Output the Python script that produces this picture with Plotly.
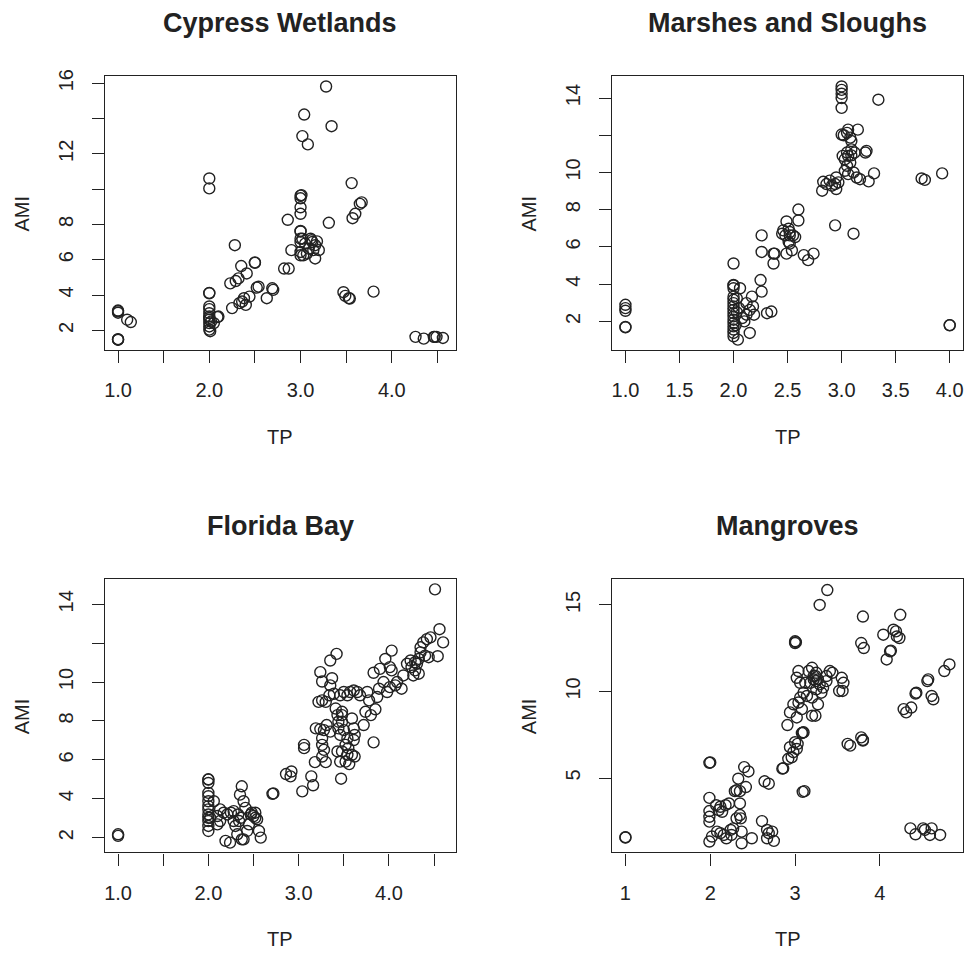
import plotly.graph_objects as go

# ---- data: total phosphorus (TP) vs AMI for four habitat types ----
cw_tp = [1.0, 1.0, 1.0, 1.0, 1.0, 1.0, 1.1, 1.14,
         2.0, 2.0, 2.0, 2.0, 2.0, 2.0, 2.0, 2.0, 2.0, 2.0, 2.0, 2.01, 2.0, 2.0, 2.02, 2.09, 2.05, 2.1,
         2.25, 2.23, 2.28, 2.29, 2.32, 2.35, 2.33, 2.36, 2.38, 2.4, 2.41, 2.44, 2.5, 2.5, 2.52, 2.54,
         2.63, 2.69, 2.70, 2.82, 2.87, 2.86, 2.9,
         3.0, 3.01, 3.0, 3.0, 3.0, 3.0, 3.0, 3.0, 3.0, 3.0, 3.0,
         3.02, 3.04, 3.08, 3.28, 3.34, 3.31,
         3.02, 3.03, 3.05, 3.09, 3.11, 3.13, 3.14, 3.16, 3.18, 3.2, 3.16, 3.07, 3.12,
         3.47, 3.49, 3.53, 3.54, 3.56, 3.57, 3.6, 3.65, 3.67, 3.8,
         4.26, 4.35, 4.46, 4.47, 4.49, 4.56]
cw_ami = [1.47, 1.47, 1.5, 3.12, 3.0, 3.08, 2.6, 2.47,
          10.6, 10.04, 4.1, 4.12, 3.35, 2.97, 2.79, 2.6, 2.41, 2.22, 2.04, 1.95, 3.2, 2.7, 2.5, 2.75, 2.41, 2.78,
          3.26, 4.66, 6.82, 4.79, 4.94, 5.64, 3.54, 3.63, 3.82, 3.44, 5.22, 3.91, 5.82, 5.85, 4.42, 4.47,
          3.82, 4.38, 4.29, 5.5, 5.5, 8.26, 6.54,
          9.63, 9.66, 9.48, 8.97, 8.6, 7.6, 7.63, 7.19, 7.0, 6.44, 6.25,
          13.0, 14.22, 12.53, 15.81, 13.56, 8.09,
          7.19, 6.25, 6.91, 6.63, 7.19, 7.0, 6.54, 6.07, 7.04, 6.54, 6.82, 6.35, 7.1,
          4.16, 3.95, 3.82, 3.8, 10.34, 8.35, 8.6, 9.16, 9.25, 4.19,
          1.63, 1.53, 1.63, 1.63, 1.63, 1.57]

ms_tp = [1.0, 1.0, 1.0, 1.0, 1.0,
         2.0, 2.0, 2.0, 2.0, 2.0, 2.0, 2.0, 2.0, 2.0, 2.0, 2.0, 2.0, 2.0, 2.0, 2.0, 2.0, 2.0, 2.04,
         2.06, 2.03, 2.05, 2.08, 2.12, 2.15, 2.17, 2.12, 2.18, 2.19, 2.15, 2.1, 2.02, 2.03,
         2.26, 2.25, 2.31, 2.35,
         2.26, 2.26, 2.37, 2.38, 2.37,
         2.45, 2.49, 2.51, 2.48, 2.52, 2.51, 2.49, 2.55, 2.57, 2.54, 2.52, 2.6, 2.6, 2.65, 2.69, 2.74,
         2.46, 2.52,
         2.82, 2.83, 2.86, 2.89, 2.91, 2.94, 2.95, 2.97, 2.95, 2.94,
         3.0, 3.0, 3.0, 3.0, 3.0, 3.0, 3.02, 3.05, 3.08, 3.09, 3.06, 3.15,
         3.01, 3.03, 3.06, 3.09, 3.08, 3.05, 3.03, 3.06, 3.11, 3.12, 3.14, 3.09, 3.05, 3.22, 3.23,
         3.17, 3.25, 3.3, 3.11, 3.34,
         3.74, 3.77, 3.93, 4.0, 4.0]
ms_ami = [2.89, 2.71, 2.57, 1.68, 1.7,
          5.11, 3.96, 3.93, 3.78, 3.33, 3.16, 2.98, 2.8, 2.62, 2.44, 2.27, 2.09, 1.91, 1.73, 1.56, 1.38, 1.2, 1.02,
          3.78, 3.24, 2.71, 2.18, 2.98, 2.62, 3.33, 2.36, 2.8, 2.36, 1.38, 2.0, 1.8, 2.5,
          3.6, 4.22, 2.44, 2.53,
          6.62, 5.73, 5.64, 5.64, 5.11,
          6.71, 7.37, 6.98, 6.62, 6.62, 6.27, 5.64, 6.62, 6.53, 5.82, 6.18, 8.01, 7.42, 5.56, 5.29, 5.64,
          6.89, 6.8,
          9.02, 9.5, 9.38, 9.56, 9.29, 9.38, 9.73, 9.47, 9.11, 7.16,
          14.62, 14.44, 14.23, 14.0, 13.47, 12.04, 12.0, 12.13, 11.87, 11.69, 12.3, 12.3,
          10.89, 10.71, 10.89, 10.92, 10.53, 10.36, 10.09, 9.91, 10.0, 11.07, 9.73, 11.24, 11.07, 11.07, 11.16,
          9.64, 9.52, 9.95, 6.71, 13.91,
          9.68, 9.6, 9.95, 1.79, 1.8]

fb_tp = [1.0, 1.0,
         2.0, 2.0, 2.0, 2.0, 2.0, 2.0, 2.0, 2.0, 2.0, 2.0, 2.0, 2.0,
         2.06, 2.1, 2.13, 2.17, 2.21, 2.25, 2.28, 2.13, 2.1, 2.19, 2.24, 2.3, 2.32, 2.34, 2.36, 2.37,
         2.39, 2.37, 2.35, 2.39, 2.41, 2.43, 2.45, 2.47, 2.48, 2.5, 2.52, 2.54, 2.52, 2.56, 2.58, 2.33,
         2.28, 2.02, 2.0,
         2.71, 2.72, 2.86, 2.92, 2.91, 3.04, 3.06, 3.06, 3.14, 3.16, 3.18, 3.3, 3.47, 3.46, 3.52, 3.56,
         3.24, 3.26, 3.26, 3.35, 3.42, 3.37, 3.35, 3.19, 3.24, 3.28, 3.31, 3.35, 3.26, 3.26, 3.28, 3.26,
         3.22, 3.3, 3.34, 3.39, 3.41, 3.43, 3.44, 3.44, 3.46, 3.43, 3.48, 3.46, 3.5, 3.54, 3.57, 3.61,
         3.65, 3.68, 3.48, 3.48, 3.48, 3.5, 3.54, 3.52, 3.55, 3.54, 3.59, 3.62, 3.59, 3.61, 3.62, 3.61,
         3.72, 3.74, 3.76, 3.78, 3.8, 3.83, 3.85, 3.83, 3.87, 3.9, 3.89, 3.94, 3.96, 3.98, 4.01, 4.03,
         4.01, 4.03, 4.07, 4.09, 4.14, 4.16, 4.2, 4.24, 4.25, 4.27, 4.29, 4.31, 4.33, 4.35, 4.35, 4.38,
         4.42, 4.46, 4.4, 4.44, 4.29, 4.33, 4.51, 4.56, 4.6, 4.54]
fb_ami = [2.09, 2.17,
          4.98, 5.0, 4.81, 4.3, 4.13, 3.87, 3.45, 3.19, 3.02, 2.85, 2.6, 2.34,
          3.87, 3.11, 3.45, 3.28, 3.19, 3.28, 3.36, 2.85, 2.68, 1.83, 1.74, 2.6, 2.17, 2.85, 3.02, 1.91,
          1.91, 4.64, 4.21, 3.87, 3.53, 2.34, 2.68, 3.19, 3.28, 3.11, 3.02, 2.94, 3.28, 2.34, 2.0, 3.19,
          2.85, 3.02, 3.62,
          4.25, 4.27, 5.27, 5.4, 5.15, 4.38, 6.77, 6.6, 5.15, 4.69, 5.88, 5.88, 5.03, 5.91, 5.91, 5.78,
          10.51, 10.03, 9.06, 11.11, 11.45, 10.2, 9.83, 7.62, 7.58, 7.53, 7.79, 7.45, 7.11, 6.77, 6.51, 6.17,
          8.98, 8.98, 9.32, 9.4, 8.64, 8.3, 7.96, 7.62, 7.28, 6.43, 6.43, 9.32, 9.49, 9.32, 9.49, 9.57,
          9.49, 9.32, 8.3, 8.47, 7.96, 7.53, 7.11, 6.77, 6.6, 6.26, 6.26, 6.17, 8.13, 7.62, 7.28, 7.02,
          7.79, 8.47, 9.49, 9.06, 8.3, 10.48, 8.6, 6.9, 9.23, 10.68, 9.66, 10.0, 11.19, 9.49, 9.74, 11.62,
          10.77, 10.6, 9.83, 10.0, 9.66, 10.34, 10.94, 11.11, 10.77, 10.34, 10.6, 10.94, 11.19, 11.53, 11.79, 12.04,
          12.21, 12.3, 11.36, 11.28, 11.02, 10.43, 14.77, 12.72, 12.04, 11.33]

mg_tp = [1.0, 1.0,
         1.99, 2.0, 1.99, 1.99, 1.99, 1.99, 1.99, 2.02, 2.07, 2.1, 2.12, 2.14, 2.18, 2.22, 2.08, 2.12,
         2.16, 2.19, 2.24, 2.25, 2.27, 2.29, 2.31, 2.33, 2.35, 2.35, 2.35, 2.36, 2.37, 2.37, 2.4, 2.45,
         2.42, 2.49, 2.31,
         2.61, 2.67, 2.69, 2.73, 2.75, 2.67, 2.64, 2.69,
         2.85, 2.86, 2.92, 2.96, 2.94, 2.98, 3.02, 3.0, 3.03, 3.08, 3.09, 3.1, 3.09, 3.11,
         2.91, 2.94, 2.98, 3.02, 3.04, 3.06, 3.08, 3.02, 3.04, 3.06, 3.1, 3.12, 3.16, 3.2, 3.22, 3.25,
         3.27, 3.29, 3.25, 3.2, 3.24, 3.27, 3.2, 3.14, 3.31, 3.33, 3.37, 3.41, 3.44, 3.55, 3.57, 3.52,
         3.56, 3.37, 3.25, 3.18, 3.22, 3.24,
         3.0, 3.0, 3.01,
         3.29, 3.38,
         3.62, 3.65, 3.78, 3.8, 3.8, 3.8, 3.78, 3.81,
         4.04, 4.08, 4.12, 4.13, 4.16, 4.19, 4.2, 4.23, 4.24,
         4.28, 4.31, 4.37, 4.42, 4.43, 4.56, 4.57, 4.61, 4.63, 4.76, 4.82,
         4.36, 4.42, 4.51, 4.61, 4.59, 4.71, 4.53]
mg_ami = [1.56, 1.58,
          5.88, 5.9, 3.85, 3.09, 2.76, 2.48, 1.33, 1.62, 3.43, 3.15, 3.34, 3.05, 3.43, 3.53, 1.9, 1.81,
          1.71, 1.52, 2.0, 1.71, 2.09, 4.24, 4.29, 4.96, 4.24, 3.53, 2.86, 2.67, 1.9, 1.23, 5.63, 5.38,
          4.48, 1.52, 2.67,
          2.51, 2.0, 1.81, 1.9, 1.37, 1.52, 4.81, 4.67,
          5.54, 5.56, 6.11, 6.2, 6.78, 6.49, 6.68, 7.07, 6.97, 7.6, 7.62, 7.64, 4.2, 4.24,
          8.06, 8.79, 9.26, 8.5, 9.36, 9.65, 8.98, 10.79, 11.18, 10.5, 9.93, 10.5, 11.18, 11.37, 10.89, 11.08,
          10.7, 10.41, 10.12, 8.6, 8.6, 9.26, 9.65, 9.74, 9.93, 10.22, 10.6, 11.18, 11.08, 10.79, 10.5, 10.03,
          10.03, 10.89, 10.6, 10.5, 10.7, 10.9,
          12.9, 12.8, 12.85,
          15.0, 15.86,
          6.97, 6.87, 7.35, 7.16, 7.2, 14.33, 12.8, 12.51,
          13.28, 11.85, 12.32, 12.36, 13.57, 13.47, 13.18, 13.09, 14.43,
          8.98, 8.79, 9.07, 9.88, 9.93, 10.6, 10.7, 9.74, 9.55, 11.18, 11.56,
          2.09, 1.75, 2.09, 2.09, 1.71, 1.71, 2.0]

titles = ["Cypress Wetlands", "Marshes and Sloughs", "Florida Bay", "Mangroves"]

# x-axis ticks per panel (unlabelled ticks have empty text)
x_tickvals = [[1.0, 1.5, 2.0, 2.5, 3.0, 3.5, 4.0, 4.5],
              [1.0, 1.5, 2.0, 2.5, 3.0, 3.5, 4.0],
              [1.0, 1.5, 2.0, 2.5, 3.0, 3.5, 4.0, 4.5],
              [1, 2, 3, 4]]
x_ticktext = [["1.0", "", "2.0", "", "3.0", "", "4.0", ""],
              ["1.0", "1.5", "2.0", "2.5", "3.0", "3.5", "4.0"],
              ["1.0", "", "2.0", "", "3.0", "", "4.0", ""],
              ["1", "2", "3", "4"]]
y_tickvals = [[2, 4, 6, 8, 10, 12, 14, 16],
              [2, 4, 6, 8, 10, 12, 14],
              [2, 4, 6, 8, 10, 12, 14],
              [5, 10, 15]]
y_ticktext = [["2", "4", "6", "8", "", "12", "", "16"],
              ["2", "4", "6", "8", "10", "", "14"],
              ["2", "4", "6", "8", "10", "", "14"],
              ["5", "10", "15"]]

panels = [(cw_tp, cw_ami), (ms_tp, ms_ami), (fb_tp, fb_ami), (mg_tp, mg_ami)]

# ---- layout geometry (pixels) ----
W, H = 968, 960
boxes = [  # left, right, top, bottom
    (104.3, 455.7, 70.0, 345.7),
    (612.3, 964.0, 70.0, 345.7),
    (104.3, 455.7, 576.7, 851.7),
    (612.3, 964.0, 576.7, 851.7),
]
x_ranges = [[0.858, 4.701], [0.876, 4.123], [0.856, 4.740], [0.842, 4.980]]
y_ranges = [[0.876, 16.377], [0.453, 15.157], [1.234, 15.277], [0.697, 16.47]]

INK = "#222222"
FONT = "Liberation Sans, Arial, Helvetica, sans-serif"

fig = go.Figure()
annotations = []
for i, ((xs, ys), box) in enumerate(zip(panels, boxes)):
    n = "" if i == 0 else str(i + 1)
    fig.add_trace(go.Scatter(
        x=xs, y=ys, mode="markers",
        xaxis="x" + n, yaxis="y" + n,
        marker=dict(symbol="circle-open", size=11, color=INK,
                    line=dict(width=1.4, color=INK)),
        showlegend=False, hoverinfo="x+y",
    ))
    l, r, t, b = box
    xd = [l / W, r / W]
    yd = [1 - b / H, 1 - t / H]
    common = dict(showline=True, mirror=True, linecolor=INK, linewidth=1.4,
                  ticks="outside", ticklen=12, tickwidth=1.4, tickcolor=INK,
                  showgrid=False, zeroline=False, fixedrange=True,
                  tickfont=dict(family=FONT, size=20, color=INK))
    fig.update_layout(**{
        "xaxis" + n: dict(domain=xd, range=x_ranges[i], anchor="y" + n,
                          tickmode="array", tickvals=x_tickvals[i], ticktext=x_ticktext[i],
                          ticklabelstandoff=10, **common),
        "yaxis" + n: dict(domain=yd, range=y_ranges[i], anchor="x" + n,
                          tickmode="array", tickvals=y_tickvals[i], ticktext=y_ticktext[i],
                          tickangle=-90, ticklabelstandoff=11, **common),
    })
    cx = (l + r) / 2
    # panel title
    annotations.append(dict(text="<b>%s</b>" % titles[i], x=cx / W, y=1 - (t - 54) / H,
                            xref="paper", yref="paper", showarrow=False,
                            xanchor="center", yanchor="middle",
                            font=dict(family=FONT, size=27, color=INK)))
    # x axis title
    annotations.append(dict(text="TP", x=cx / W, y=1 - (b + 87) / H,
                            xref="paper", yref="paper", showarrow=False,
                            xanchor="center", yanchor="middle",
                            font=dict(family=FONT, size=20, color=INK)))
    # y axis title
    annotations.append(dict(text="AMI", x=(l - 83) / W, y=1 - ((t + b) / 2) / H,
                            xref="paper", yref="paper", showarrow=False, textangle=-90,
                            xanchor="center", yanchor="middle",
                            font=dict(family=FONT, size=20, color=INK)))

fig.update_layout(width=W, height=H, margin=dict(l=0, r=0, t=0, b=0),
                  paper_bgcolor="white", plot_bgcolor="white",
                  annotations=annotations, font=dict(family=FONT, color=INK))

fig.write_html("out.html")
